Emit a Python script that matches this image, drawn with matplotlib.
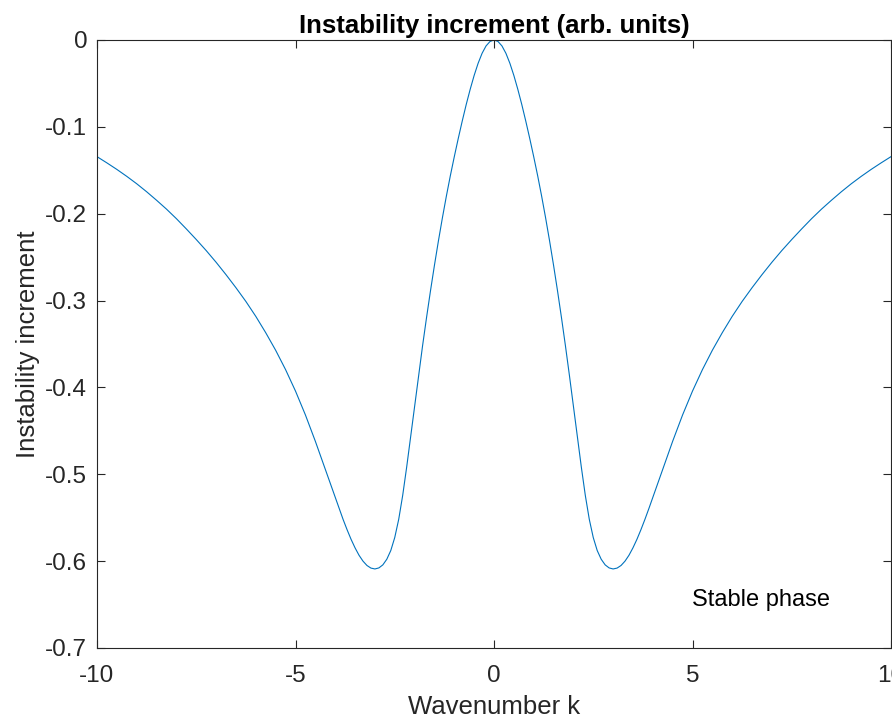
import matplotlib.pyplot as plt

# Numero de onda k y el incremento (rama izquierda y derecha)
k_izq = [-10, -9.75, -9.5, -9.25, -9, -8.75, -8.5, -8.25, -8, -7.75, -7.5, -7.25,
         -7, -6.75, -6.5, -6.25, -6, -5.75, -5.5, -5.25, -5, -4.75, -4.5, -4.25,
         -4.0, -3.9, -3.8, -3.7, -3.6, -3.5, -3.4, -3.3, -3.2, -3.1, -3.0, -2.9,
         -2.8, -2.7, -2.6, -2.5, -2.4, -2.3, -2.2, -2.1, -2.0, -1.9, -1.8, -1.7,
         -1.6, -1.5, -1.4, -1.3, -1.2, -1.1, -1.0, -0.9, -0.8, -0.7, -0.6, -0.5,
         -0.4, -0.3, -0.2, -0.1]
inc_izq = [-0.1343, -0.1415, -0.1490, -0.1570, -0.1655, -0.1747, -0.1845, -0.1947,
           -0.2057, -0.2175, -0.2297, -0.2424, -0.2559, -0.2702, -0.2852, -0.3010,
           -0.3182, -0.3370, -0.3572, -0.3795, -0.4042, -0.4317, -0.4620, -0.4942,
           -0.5267, -0.5396, -0.5521, -0.5639, -0.5749, -0.5847, -0.5932, -0.6000,
           -0.6050, -0.6080, -0.6090, -0.6078, -0.6043, -0.5978, -0.5878, -0.5728,
           -0.5518, -0.5243, -0.4918, -0.4568, -0.4213, -0.3863, -0.3523, -0.3198,
           -0.2888, -0.2593, -0.2313, -0.2048, -0.1798, -0.1563, -0.1343, -0.1133,
           -0.0933, -0.0743, -0.0568, -0.0408, -0.0268, -0.0153, -0.0068, -0.0017]
k_der = [0, 0.1, 0.2, 0.3, 0.4, 0.5, 0.6, 0.7, 0.8, 0.9, 1.0, 1.1, 1.2, 1.3, 1.4,
         1.5, 1.6, 1.7, 1.8, 1.9, 2.0, 2.1, 2.2, 2.3, 2.4, 2.5, 2.6, 2.7, 2.8, 2.9,
         3.0, 3.1, 3.2, 3.3, 3.4, 3.5, 3.6, 3.7, 3.8, 3.9, 4.0, 4.25, 4.5, 4.75, 5,
         5.25, 5.5, 5.75, 6, 6.25, 6.5, 6.75, 7, 7.25, 7.5, 7.75, 8, 8.25, 8.5,
         8.75, 9, 9.25, 9.5, 9.75, 10]
inc_der = [0, -0.0017, -0.0068, -0.0153, -0.0268, -0.0408, -0.0568, -0.0743,
           -0.0933, -0.1133, -0.1343, -0.1563, -0.1798, -0.2048, -0.2313, -0.2593,
           -0.2888, -0.3198, -0.3523, -0.3863, -0.4213, -0.4568, -0.4918, -0.5243,
           -0.5518, -0.5728, -0.5878, -0.5978, -0.6043, -0.6078, -0.6090, -0.6080,
           -0.6050, -0.6000, -0.5932, -0.5847, -0.5749, -0.5639, -0.5521, -0.5396,
           -0.5267, -0.4942, -0.4620, -0.4317, -0.4042, -0.3795, -0.3572, -0.3370,
           -0.3182, -0.3010, -0.2852, -0.2702, -0.2559, -0.2424, -0.2297, -0.2175,
           -0.2057, -0.1947, -0.1845, -0.1747, -0.1655, -0.1570, -0.1490, -0.1415,
           -0.1343]

xticks = [-10, -5, 0, 5, 10]
yticks = [-0.7, -0.6, -0.5, -0.4, -0.3, -0.2, -0.1, 0]
yticklabels = ['-0.7', '-0.6', '-0.5', '-0.4', '-0.3', '-0.2', '-0.1', '0']

gris = '#262626'
plt.rcParams['font.family'] = ['Liberation Sans', 'DejaVu Sans']

fig = plt.figure(figsize=(8.92, 7.19), dpi=100)
ax = fig.add_axes([97 / 892, 1 - 648 / 719, 794 / 892, 608 / 719])

ax.plot(k_izq + k_der, inc_izq + inc_der, color='#0072BD', linewidth=0.8)

ax.set_xlim(-10, 10)
ax.set_ylim(-0.7, 0)
ax.set_xticks(xticks)
ax.set_xticklabels([str(t) for t in xticks])
ax.set_yticks(yticks)
ax.set_yticklabels(yticklabels)
ax.tick_params(direction='in', length=6, width=0.8, colors=gris, labelsize=17.5,
               top=True, right=True)
ax.tick_params(axis='x', pad=12)
ax.tick_params(axis='y', pad=7)
for s in ax.spines.values():
    s.set_color(gris)
    s.set_linewidth(0.8)

ax.set_title('Instability increment (arb. units)', fontsize=18.5, fontweight='bold',
             pad=5)
ax.set_xlabel('Wavenumber k', fontsize=18.5, color=gris, labelpad=6)
ax.set_ylabel('Instability increment', fontsize=18.5, color=gris, labelpad=4)

ax.text(5, -0.645, 'Stable phase', fontsize=17, color='black', va='center', ha='left')

fig.savefig('out.png', dpi=100)
